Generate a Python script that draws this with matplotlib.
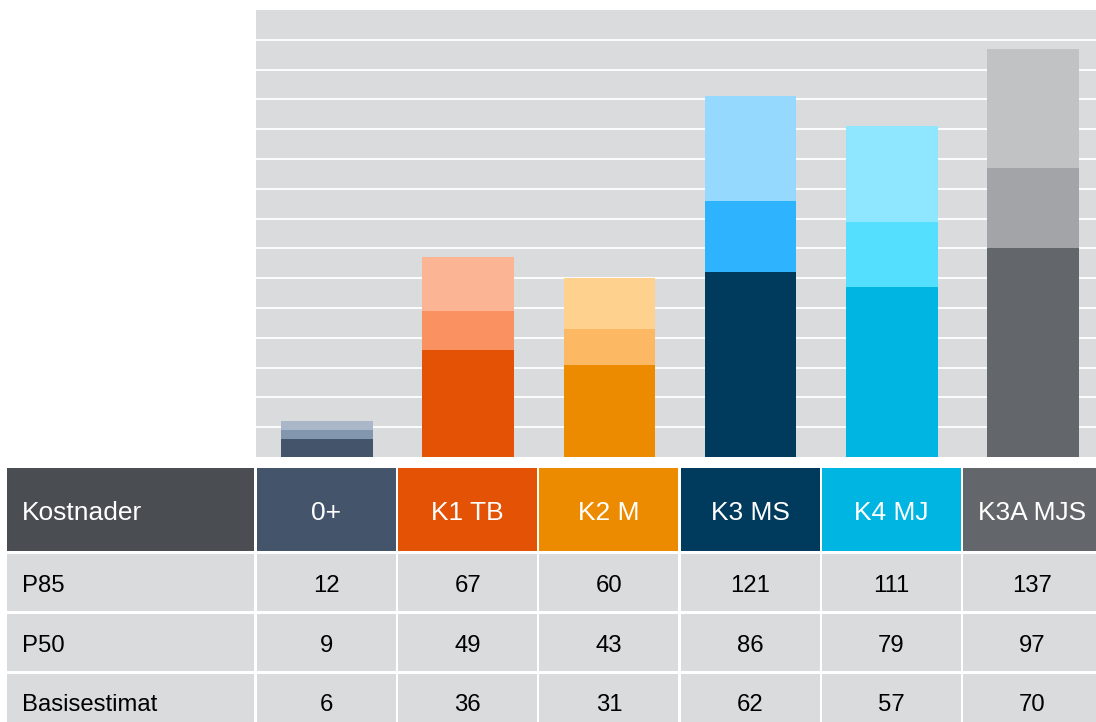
import matplotlib.pyplot as plt
from matplotlib.patches import Rectangle
import numpy as np

plt.rcParams['font.family'] = ['Liberation Sans', 'DejaVu Sans']

categories = ["0+", "K1 TB", "K2 M", "K3 MS", "K4 MJ", "K3A MJS"]
basis = [6, 36, 31, 62, 57, 70]
p50 = [9, 49, 43, 86, 79, 97]
p85 = [12, 67, 60, 121, 111, 137]
row_labels = ["P85", "P50", "Basisestimat"]

dark_cols = ["#44546a", "#e35205", "#ed8b00", "#003a5d", "#00b5e2", "#63666a"]
mid_cols = ["#8296ae", "#fa9160", "#fdb863", "#2eb3ff", "#55dfff", "#a2a4a8"]
light_cols = ["#aab7c9", "#fbb594", "#fed18f", "#96d9ff", "#8fe6ff", "#c1c2c4"]

W, H = 1096, 722
fig = plt.figure(figsize=(W / 100, H / 100), dpi=100)

# chart area
left, right, top, bottom = 256.4, 1096, 10, 457
ax = fig.add_axes([left / W, 1 - bottom / H, (right - left) / W, (bottom - top) / H])
ax.set_facecolor("#dadbdd")
stride = 141.2
x = np.arange(len(categories))
ax.set_xlim(-0.5, -0.5 + (right - left) / stride)
ax.set_ylim(0, 150)
ax.set_yticks(np.arange(10, 150, 10))
ax.yaxis.grid(True, color="white", lw=1.3)
ax.set_axisbelow(True)
for s in ax.spines.values():
    s.set_visible(False)
ax.tick_params(left=False, bottom=False, labelleft=False, labelbottom=False)

b = np.array(basis)
m = np.array(p50) - b
t = np.array(p85) - np.array(p50)
w = 0.65
ax.bar(x, b, w, color=dark_cols)
ax.bar(x, m, w, bottom=b, color=mid_cols)
ax.bar(x, t, w, bottom=b + m, color=light_cols)

# table below
tax = fig.add_axes([0, 0, 1, 1])
tax.set_xlim(0, W)
tax.set_ylim(H, 0)
tax.axis("off")

rows_y = [(467.5, 551), (553.5, 611), (613.5, 671), (673.5, 730)]
col0 = (7, 254)
cols_x = [(257 + i * stride, 257 + i * stride + 139) for i in range(len(categories))]


def cell(x0, x1, y0, y1, color):
    tax.add_patch(Rectangle((x0, y0), x1 - x0, y1 - y0, color=color, lw=0))


def label(xp, y0, y1, s, fs, color, ha):
    cap = 0.716 * fs * 100 / 72
    tax.text(xp, (y0 + y1) / 2 + cap / 2 + 1, s, color=color, fontsize=fs,
             va="baseline", ha=ha)


hfs, bfs = 19, 17.2
y0, y1 = rows_y[0]
cell(col0[0], col0[1], y0, y1, "#4a4d52")
label(22, y0, y1, "Kostnader", hfs, "white", "left")
for i, cat in enumerate(categories):
    cx0, cx1 = cols_x[i]
    cell(cx0, cx1, y0, y1, dark_cols[i])
    label((cx0 + cx1) / 2, y0, y1, cat, hfs, "white", "center")

for r, (lab, vals) in enumerate(zip(row_labels, [p85, p50, basis])):
    y0, y1 = rows_y[r + 1]
    cell(col0[0], col0[1], y0, y1, "#dadbdd")
    label(22, y0, y1, lab, bfs, "black", "left")
    for i, v in enumerate(vals):
        cx0, cx1 = cols_x[i]
        cell(cx0, cx1, y0, y1, "#dadbdd")
        label((cx0 + cx1) / 2, y0, y1, str(v), bfs, "black", "center")

fig.savefig("out.png", dpi=100)
